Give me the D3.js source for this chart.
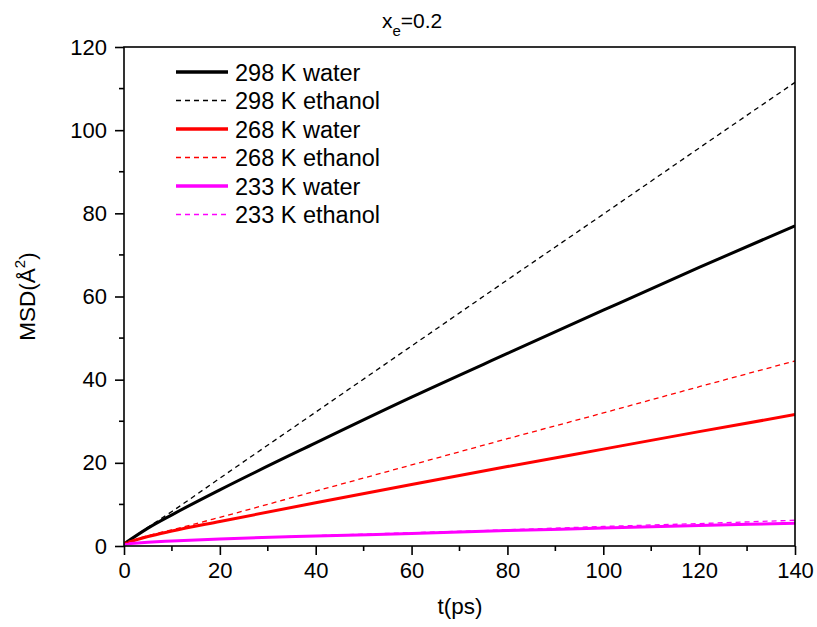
<!DOCTYPE html>
<html><head><meta charset="utf-8">
<script src="https://cdn.jsdelivr.net/npm/d3@7"></script>
<style>body{margin:0;background:#fff}svg{display:block;font-family:"Liberation Sans",Arial,sans-serif}</style>
</head><body>
<svg id="c" width="817" height="627"></svg>
<script>
const times = [0, 5, 10, 20, 40, 60, 80, 100, 120, 140];
const w298 = [0.5, 4.3, 7.5, 13.5, 24.8, 35.8, 46.3, 56.7, 67, 77];
const e298 = [0.5, 4.5, 8.3, 16.3, 32.2, 48.1, 64, 79.8, 95.7, 111.5];
const w268 = [0.6, 2.3, 3.6, 5.9, 10.4, 14.8, 19.1, 23.3, 27.5, 31.6];
const e268 = [0.6, 2.5, 3.9, 6.9, 13.2, 19.5, 25.8, 32, 38.3, 44.5];
const w233 = [0.5, 0.9, 1.2, 1.7, 2.4, 3.0, 3.7, 4.3, 4.9, 5.5];
const e233 = [0.5, 0.9, 1.2, 1.7, 2.5, 3.2, 3.9, 4.7, 5.4, 6.2];
const seriesNames = ["298 K water","298 K ethanol","268 K water","268 K ethanol","233 K water","233 K ethanol"];
const seriesColors = ["#000000","#000000","#ff0000","#ff0000","#ff00ff","#ff00ff"];
const seriesDashed = [false,true,false,true,false,true];
const seriesData = [w298,e298,w268,e268,w233,e233];
const xTicks = [0,20,40,60,80,100,120,140];
const yTicks = [0,20,40,60,80,100,120];

const svg = d3.select("#c");
const L=124, R=795, T=47, B=546;
const x = d3.scaleLinear().domain([0,140]).range([L,R]);
const y = d3.scaleLinear().domain([0,120]).range([B,T]);

const line = d3.line().x((d,i)=>x(times[i])).y(d=>y(d)).curve(d3.curveMonotoneX);
svg.append("clipPath").attr("id","pc").append("rect").attr("x",L).attr("y",T).attr("width",R-L).attr("height",B-T);
const g = svg.append("g").attr("clip-path","url(#pc)");
const order=[0,2,4,1,3,5];
order.forEach(i=>{
  g.append("path").datum(seriesData[i]).attr("d",line).attr("fill","none")
   .attr("stroke",seriesColors[i]).attr("stroke-width",seriesDashed[i]?1.3:3)
   .attr("stroke-dasharray",seriesDashed[i]?"5,4":null);
});

svg.append("rect").attr("x",L).attr("y",T).attr("width",R-L).attr("height",B-T)
  .attr("fill","none").attr("stroke","#000").attr("stroke-width",1.6);

const xMinor = d3.range(10,140,20);
const yMinor = d3.range(10,120,20);
const xa = svg.append("g").attr("transform",`translate(0,${B})`)
  .call(d3.axisBottom(x).tickValues(xTicks).tickSize(9).tickPadding(7).tickFormat(d3.format("d")));
xa.select(".domain").remove();
xa.selectAll("line").attr("stroke-width",1.6);
xa.selectAll("text").attr("font-size",22).attr("font-family","Liberation Sans, Arial, sans-serif").attr("fill","#000");
svg.append("g").selectAll("line").data(xMinor).join("line")
  .attr("x1",d=>x(d)).attr("x2",d=>x(d)).attr("y1",B).attr("y2",B+5).attr("stroke","#000").attr("stroke-width",1.6);

const ya = svg.append("g").attr("transform",`translate(${L},0)`)
  .call(d3.axisLeft(y).tickValues(yTicks).tickSize(9).tickPadding(8).tickFormat(d3.format("d")));
ya.select(".domain").remove();
ya.selectAll("line").attr("stroke-width",1.6);
ya.selectAll("text").attr("font-size",22).attr("font-family","Liberation Sans, Arial, sans-serif").attr("fill","#000");
svg.append("g").selectAll("line").data(yMinor).join("line")
  .attr("x1",L).attr("x2",L-5).attr("y1",d=>y(d)).attr("y2",d=>y(d)).attr("stroke","#000").attr("stroke-width",1.6);

svg.append("text").attr("x",460).attr("y",614).attr("text-anchor","middle").attr("font-size",22.5).text("t(ps)");
const yl = svg.append("text").attr("transform",`translate(35,${(T+B)/2}) rotate(-90)`).attr("text-anchor","middle").attr("font-size",22.5);
yl.append("tspan").text("MSD(Å");
yl.append("tspan").attr("dy",-10).attr("font-size",15).text("2");
yl.append("tspan").attr("dy",10).text(")");

const tt = svg.append("text").attr("x",382).attr("y",28).attr("font-size",21);
tt.append("tspan").text("x");
tt.append("tspan").attr("dy",8).attr("font-size",15).text("e");
tt.append("tspan").attr("dy",-8).text("=0.2");

const rowY = [72,100.5,129,157.5,186,214.5];
seriesNames.forEach((n,i)=>{
  svg.append("line").attr("x1",176).attr("x2",228).attr("y1",rowY[i]).attr("y2",rowY[i])
    .attr("stroke",seriesColors[i]).attr("stroke-width",seriesDashed[i]?1.3:3.5)
    .attr("stroke-dasharray",seriesDashed[i]?"5,4":null);
  svg.append("text").attr("x",235).attr("y",rowY[i]+8.5).attr("font-size",23.5).text(n);
});
</script>
</body></html>
